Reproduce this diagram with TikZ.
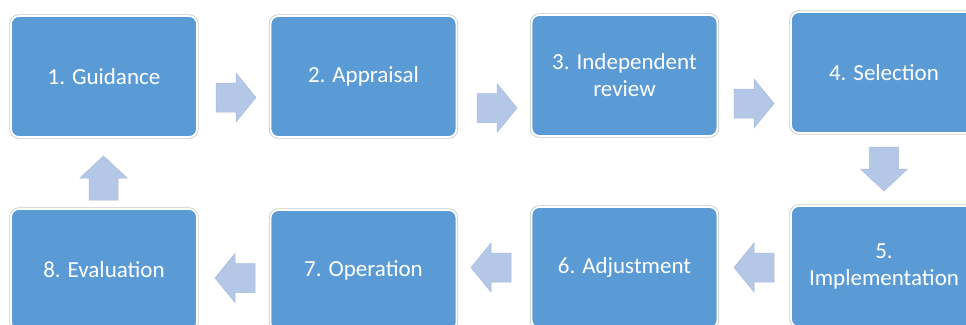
\documentclass[tikz,border=0pt]{standalone}
\usepackage{fontspec}
\setmainfont{Carlito}
\definecolor{boxblue}{HTML}{5B9BD5}
\definecolor{arrowblue}{HTML}{B4C7E7}
\definecolor{arrowedge}{HTML}{A7BBDD}
\tikzset{
  stepbox/.style={rectangle, rounded corners=8pt, minimum width=186pt, minimum height=121pt,
    fill=boxblue, draw=white, line width=1.8pt, text=white, align=center,
    font=\fontsize{23}{27}\selectfont, inner sep=0pt,
    preaction={draw=black!22, line width=3.4pt}},
  harrow/.pic={\filldraw[fill=arrowblue, draw=arrowedge, line width=0.5pt]
    (-20,-14.5) -- (0,-14.5) -- (0,-24.5) -- (20,0) -- (0,24.5) -- (0,14.5) -- (-20,14.5) -- cycle;},
  varrow/.pic={\filldraw[fill=arrowblue, draw=arrowedge, line width=0.5pt]
    (-22,-14.5) -- (0,-14.5) -- (0,-23.5) -- (22,0) -- (0,23.5) -- (0,14.5) -- (-22,14.5) -- cycle;}
}
\begin{document}
\begin{tikzpicture}[x=1pt,y=-1pt]
\useasboundingbox (0,0) rectangle (966,324);
\node[stepbox] (b1) at (104,76.5) {1. Guidance};
\node[stepbox] (b2) at (363.5,76.5) {2. Appraisal};
\node[stepbox] (b3) at (624.5,75.5) {3. Independent\\review};
\node[stepbox] (b4) at (884,72.5) {4. Selection};
\node[stepbox] (b5) at (884,266.5) {5.\\Implementation};
\node[stepbox] (b6) at (624.5,267.5) {6. Adjustment};
\node[stepbox] (b7) at (363.5,270.5) {7. Operation};
\node[stepbox] (b8) at (104,269.5) {8. Evaluation};
\coordinate (a12) at (236,97.5);
\coordinate (a23) at (497,108);
\coordinate (a34) at (754,103.5);
\coordinate (a45) at (884,169);
\coordinate (a56) at (754,267.5);
\coordinate (a67) at (491,267.5);
\coordinate (a78) at (235,278);
\coordinate (a81) at (103.5,178);
\pic at (a12) {harrow};
\pic at (a23) {harrow};
\pic at (a34) {harrow};
\pic[rotate=-90] at (a45) {varrow};
\pic[rotate=180] at (a56) {harrow};
\pic[rotate=180] at (a67) {harrow};
\pic[rotate=180] at (a78) {harrow};
\pic[rotate=90] at (a81) {varrow};
\end{tikzpicture}
\end{document}
